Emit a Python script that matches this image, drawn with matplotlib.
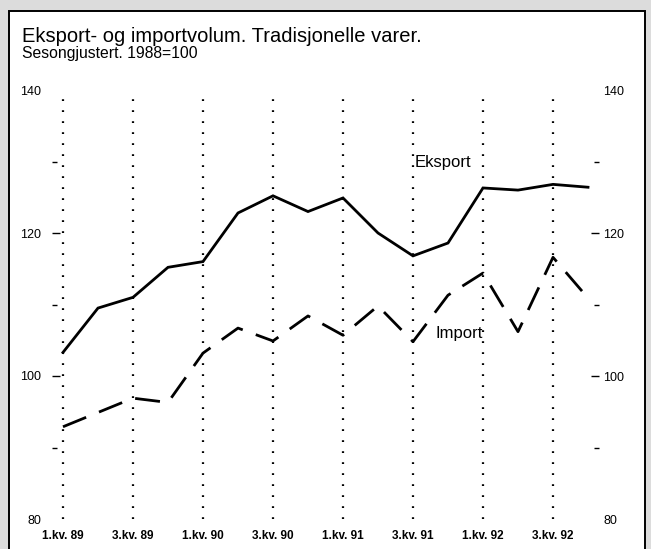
import matplotlib.pyplot as plt
from matplotlib.patches import Rectangle

# kvartaler 1.kv. 89 - 4.kv. 92
kvartal = list(range(16))
eksport = [103.3, 109.5, 111.0, 115.2, 116.0, 122.8, 125.2, 123.0,
           124.9, 120.0, 116.8, 118.6, 126.3, 126.0, 126.8, 126.4]
importv = [92.9, 94.9, 96.9, 96.3, 103.2, 106.7, 104.9, 108.4,
           105.7, 109.8, 104.8, 111.3, 114.4, 106.2, 116.6, 110.9]
xpos = [0, 2, 4, 6, 8, 10, 12, 14]
xlabels = ['1.kv. 89', '3.kv. 89', '1.kv. 90', '3.kv. 90',
           '1.kv. 91', '3.kv. 91', '1.kv. 92', '3.kv. 92']
yticks = [80, 100, 120, 140]
yminor = [90, 110, 130]

plt.rcParams['font.family'] = ['Liberation Sans', 'DejaVu Sans']

fig = plt.figure(figsize=(6.51, 5.49), dpi=100, facecolor='#dcdcdc')
# hvit ramme
fig.patches.append(Rectangle((9 / 651, -0.05), 636 / 651, 1.05 - 11 / 549,
                             transform=fig.transFigure, facecolor='white',
                             edgecolor='black', lw=1.4, zorder=0))

ax = fig.add_axes([52 / 651, 30 / 549, 547 / 651, 429 / 549], zorder=2)
ax.set_facecolor('none')
for s in ax.spines.values():
    s.set_visible(False)

for x in xpos:
    ax.axvline(x, ymin=0.0, ymax=0.99, color='black', lw=1.6,
               linestyle=(0, (0.8, 4.15)))

ax.plot(kvartal, eksport, color='black', lw=2.0, solid_joinstyle='miter')
ax.plot(kvartal, importv, color='black', lw=2.0, linestyle=(0, (9, 5)))

ax.set_xlim(-0.314, 15.314)
ax.set_ylim(80, 140)
ax.set_xticks(xpos)
ax.set_xticklabels(xlabels, fontsize=8.5, fontweight='bold')
ax.tick_params(axis='x', length=0, pad=8)

# venstre akse
ax.set_yticks(yticks)
ax.set_yticks(yminor, minor=True)
ax.tick_params(axis='y', which='major', direction='in', length=6, width=1,
               labelsize=9, pad=8)
ax.tick_params(axis='y', which='minor', direction='in', length=3.5, width=1)

# hoyre akse
ax2 = ax.twinx()
for s in ax2.spines.values():
    s.set_visible(False)
ax2.set_ylim(80, 140)
ax2.set_yticks(yticks)
ax2.set_yticks(yminor, minor=True)
ax2.tick_params(axis='y', which='major', direction='in', length=6, width=1,
                labelsize=9, pad=3)
ax2.tick_params(axis='y', which='minor', direction='in', length=3.5, width=1)

for a in (ax, ax2):
    for t in (a.yaxis.get_major_ticks()[0], a.yaxis.get_major_ticks()[-1]):
        t.tick1line.set_visible(False)
        t.tick2line.set_visible(False)

ax.text(10.06, 129.3, 'Eksport', fontsize=12)
ax.text(10.63, 105.3, 'Import', fontsize=12)

fig.text(22 / 651, 1 - 42 / 549, 'Eksport- og importvolum. Tradisjonelle varer.',
         fontsize=14.5)
fig.text(22 / 651, 1 - 58 / 549, 'Sesongjustert. 1988=100', fontsize=11.3)

fig.savefig('out.png', dpi=100, facecolor=fig.get_facecolor())
